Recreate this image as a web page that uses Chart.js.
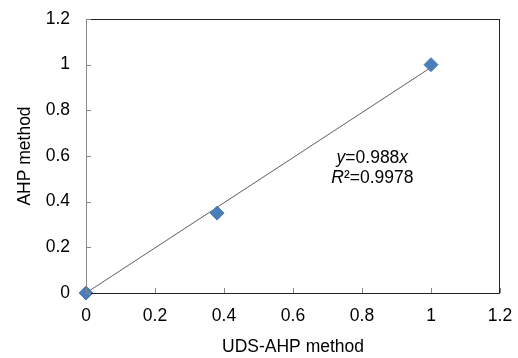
<!DOCTYPE html>
<html>
<head>
<meta charset="utf-8">
<script src="https://cdn.jsdelivr.net/npm/chart.js@4/dist/chart.umd.min.js"></script>
<style>
  html, body { margin: 0; padding: 0; background: #fff; }
  #wrap { width: 518px; height: 358px; }
</style>
</head>
<body>
<div id="wrap"><canvas id="chart"></canvas></div>
<script>
// data
const udsAhp = [0, 0.38, 1.0];
const ahp = [0, 0.35, 1.0];
const slope = 0.988;
const trendX = [0, 1];

const FONT = "Arial, 'Liberation Sans', sans-serif";

// inward tick marks, plot frame and the equation label
const frame = {
    id: "frame",
    afterDraw(chart) {
        const ctx = chart.ctx;
        const a = chart.chartArea;
        ctx.save();
        ctx.lineWidth = 1;
        ctx.strokeStyle = "#222";
        ctx.strokeRect(a.left + 0.5, a.top + 0.5, a.right - a.left - 1, a.bottom - a.top);
        ctx.strokeStyle = "#868686";
        ctx.beginPath();
        ctx.moveTo(a.left + 0.5, a.top);
        ctx.lineTo(a.left + 0.5, a.bottom);
        ctx.stroke();
        const xs = chart.scales.x, ys = chart.scales.y;
        ctx.beginPath();
        xs.ticks.forEach((t, i) => {
            const px = Math.round(xs.getPixelForTick(i)) + 0.5;
            ctx.moveTo(px, a.bottom);
            ctx.lineTo(px, a.bottom - 5);
        });
        ys.ticks.forEach((t, i) => {
            const py = Math.round(ys.getPixelForTick(i)) + 0.5;
            ctx.moveTo(a.left, py);
            ctx.lineTo(a.left + 5, py);
        });
        ctx.stroke();

        ctx.fillStyle = "#000";
        ctx.textBaseline = "alphabetic";
        const cx = xs.getPixelForValue(0.83);
        const by = ys.getPixelForValue(0.57);
        drawParts(ctx, [["y", true], ["=0.988", false], ["x", true]], cx, by);
        drawParts(ctx, [["R", true], ["²=0.9978", false]], cx, by + 20);
        ctx.restore();
    }
};

function drawParts(ctx, parts, cx, y) {
    let w = 0;
    parts.forEach(p => {
        ctx.font = (p[1] ? "italic " : "") + "17.5px " + FONT;
        w += ctx.measureText(p[0]).width;
    });
    let x = cx - w / 2;
    ctx.textAlign = "left";
    parts.forEach(p => {
        ctx.font = (p[1] ? "italic " : "") + "17.5px " + FONT;
        ctx.fillText(p[0], x, y);
        x += ctx.measureText(p[0]).width;
    });
}

const fmt = v => String(Number(v.toFixed(1)));

new Chart(document.getElementById("chart"), {
    type: "scatter",
    data: {
        datasets: [
            {
                label: "trend",
                type: "line",
                data: trendX.map(x => ({ x: x, y: slope * x })),
                borderColor: "#5f5f5f",
                borderWidth: 1,
                pointRadius: 0,
                fill: false,
                order: 2,
            },
            {
                label: "points",
                data: udsAhp.map((x, i) => ({ x: x, y: ahp[i] })),
                pointStyle: "rectRot",
                pointRadius: 7,
                backgroundColor: "#4a7ebb",
                borderColor: "#4a7ebb",
                clip: false,
                order: 1,
            },
        ],
    },
    options: {
        responsive: true,
        maintainAspectRatio: false,
        animation: false,
        layout: { padding: { left: 5, top: 19, right: 18, bottom: 0 } },
        plugins: {
            legend: { display: false },
            tooltip: { enabled: false },
        },
        scales: {
            x: {
                type: "linear",
                min: 0,
                max: 1.2,
                ticks: {
                    stepSize: 0.2,
                    callback: fmt,
                    color: "#000",
                    font: { family: FONT, size: 17.5 },
                    padding: 13,
                    maxRotation: 0,
                },
                grid: { display: false, drawTicks: false },
                border: { display: false },
                title: {
                    display: true,
                    text: "UDS-AHP method",
                    color: "#000",
                    font: { family: FONT, size: 17.5 },
                    padding: { top: 6, bottom: 0 },
                },
                afterFit(scale) {
                    scale.height = 65;
                    scale.paddingLeft = 0;
                    scale.paddingRight = 0;
                },
            },
            y: {
                type: "linear",
                min: 0,
                max: 1.2,
                ticks: {
                    stepSize: 0.2,
                    callback: fmt,
                    color: "#000",
                    font: { family: FONT, size: 17.5 },
                    padding: 16,
                },
                grid: { display: false, drawTicks: false },
                border: { display: false },
                title: {
                    display: true,
                    text: "AHP method",
                    color: "#000",
                    font: { family: FONT, size: 17.5 },
                    padding: { top: 10, bottom: 4 },
                },
                afterFit(scale) {
                    scale.width = 81;
                    scale.paddingTop = 0;
                    scale.paddingBottom = 0;
                },
            },
        },
    },
    plugins: [frame],
});
</script>
</body>
</html>
